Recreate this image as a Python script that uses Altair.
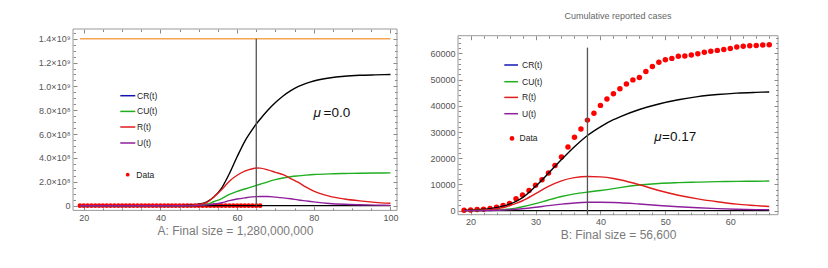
import altair as alt
import pandas as pd

FONT = "Liberation Sans"
TICK_COLOR = "#8a8a8a"
LABEL_COLOR = "#555555"
FRAME_COLOR = "#9a9a9a"

# ---------------- shared reported data (cumulative reported cases) ----------------
DATA_T = list(range(19, 67))
DATA_CASES = [200, 290, 440, 570, 830, 1290, 1980, 2740, 4520, 5970, 7710, 9690,
              11790, 14380, 17210, 20440, 24320, 28020, 31160, 34550, 37200, 40170,
              42640, 44650, 46500, 48300, 49900, 50800, 53100, 55000, 56600, 57600,
              58100, 58900, 59000, 59400, 59900, 60400, 60800, 61150, 61500, 61900,
              62400, 62700, 62900, 63000, 63200, 63300]

SERIES = ["Total", "CU(t)", "R(t)", "U(t)"]
SERIES_COLORS = ["#000000", "#1fae1f", "#e01c1c", "#8e1f9c"]
LEGEND_LABELS = ["CR(t)", "CU(t)", "R(t)", "U(t)"]
LEGEND_COLORS = ["#1414b4", "#1fae1f", "#e01c1c", "#8e1f9c"]

# ---------------- Panel A ----------------
A_T = [19, 30, 40, 45, 48, 50, 52, 54, 56, 58, 60, 62, 64, 65, 66, 68, 70, 72,
       74, 76, 78, 80, 84, 88, 92, 96, 100]
A_TOTAL = [0, 0, 0, 0.001e9, 0.004e9, 0.012e9, 0.03e9, 0.075e9, 0.15e9, 0.27e9,
           0.41e9, 0.54e9, 0.64e9, 0.685e9, 0.725e9, 0.80e9, 0.865e9, 0.92e9,
           0.965e9, 1.0e9, 1.025e9, 1.045e9, 1.07e9, 1.085e9, 1.093e9, 1.097e9, 1.1e9]
A_CU = [0, 0, 0, 0, 0.001e9, 0.004e9, 0.01e9, 0.035e9, 0.06e9, 0.095e9, 0.12e9,
        0.14e9, 0.16e9, 0.17e9, 0.18e9, 0.20e9, 0.218e9, 0.232e9, 0.243e9, 0.25e9,
        0.256e9, 0.261e9, 0.267e9, 0.27e9, 0.272e9, 0.274e9, 0.275e9]
A_R = [0, 0, 0, 0.001e9, 0.004e9, 0.01e9, 0.025e9, 0.075e9, 0.135e9, 0.205e9,
       0.255e9, 0.29e9, 0.31e9, 0.316e9, 0.315e9, 0.30e9, 0.28e9, 0.26e9, 0.228e9,
       0.195e9, 0.155e9, 0.122e9, 0.08e9, 0.056e9, 0.04e9, 0.028e9, 0.02e9]
A_U = [0, 0, 0, 0, 0.001e9, 0.003e9, 0.007e9, 0.014e9, 0.025e9, 0.042e9, 0.056e9,
       0.066e9, 0.074e9, 0.076e9, 0.077e9, 0.077e9, 0.072e9, 0.066e9, 0.058e9,
       0.048e9, 0.04e9, 0.032e9, 0.019e9, 0.012e9, 0.008e9, 0.005e9, 0.003e9]
A_POP_LEVEL = 1.4e9
A_LINE_SPAN = [19, 100]
A_VLINE_T = 65
A_VLINE_TOP = 1.4e9
A_X_DOMAIN = [17.2, 101.7]
A_Y_DOMAIN = [-0.0394e9, 1.4813e9]
A_X_TICKS = [20, 40, 60, 80, 100]
A_X_MINOR = [25, 30, 35, 45, 50, 55, 65, 70, 75, 85, 90, 95]
A_Y_TICKS = [0, 2e8, 4e8, 6e8, 8e8, 1e9, 1.2e9, 1.4e9]
A_Y_LABELS = ["0", "2.0×10⁸", "4.0×10⁸", "6.0×10⁸", "8.0×10⁸", "1.0×10⁹", "1.2×10⁹", "1.4×10⁹"]
A_Y_MINOR = [0.5e8, 1e8, 1.5e8, 2.5e8, 3e8, 3.5e8, 4.5e8, 5e8, 5.5e8, 6.5e8, 7e8, 7.5e8,
             8.5e8, 9e8, 9.5e8, 10.5e8, 11e8, 11.5e8, 12.5e8, 13e8, 13.5e8, 14.5e8]
A_CAPTION = "A: Final size = 1,280,000,000"
A_MU = "=0.0"

# ---------------- Panel B ----------------
B_T = [19, 21, 23, 25, 27, 28, 30, 32, 34, 36, 38, 40, 42, 43, 46, 49, 52, 55, 58, 61, 64, 66]
B_TOTAL = [150, 400, 800, 1700, 3600, 5000, 9300, 14300, 19500, 24400, 28700, 32000,
           34700, 35800, 38600, 40700, 42300, 43500, 44300, 44850, 45150, 45300]
B_CU = [20, 60, 150, 400, 1000, 1500, 2700, 4100, 5400, 6400, 7100, 7700, 8400, 8800,
        9800, 10400, 10700, 10900, 11100, 11200, 11250, 11300]
B_R = [50, 150, 400, 1200, 2800, 3800, 6500, 9300, 11400, 12600, 13050, 12900, 12300,
       11800, 9900, 7700, 5900, 4500, 3400, 2500, 1950, 1600]
B_U = [10, 40, 100, 250, 550, 750, 1300, 1950, 2500, 2950, 3200, 3250, 3150, 3050,
       2550, 2000, 1500, 1100, 780, 550, 420, 380]
B_LINE_SPAN = [19, 66]
B_VLINE_T = 38
B_VLINE_TOP = 62200
B_X_DOMAIN = [18.06, 67.35]
B_Y_DOMAIN = [-1526, 66750]
B_X_TICKS = [20, 30, 40, 50, 60]
B_X_MINOR = [22, 24, 26, 28, 32, 34, 36, 38, 42, 44, 46, 48, 52, 54, 56, 58, 62, 64, 66]
B_Y_TICKS = [0, 10000, 20000, 30000, 40000, 50000, 60000]
B_Y_LABELS = ["0", "10000", "20000", "30000", "40000", "50000", "60000"]
B_Y_MINOR = [2000, 4000, 6000, 8000, 12000, 14000, 16000, 18000, 22000, 24000, 26000,
             28000, 32000, 34000, 36000, 38000, 42000, 44000, 46000, 48000, 52000,
             54000, 56000, 58000, 62000, 64000, 66000]
B_CAPTION = "B: Final size = 56,600"
B_MU = "=0.17"
B_TITLE = "Cumulative reported cases"


def label_expr(values, labels):
    expr = "''"
    for v, l in reversed(list(zip(values, labels))):
        expr = f"datum.value == {v!r} ? '{l}' : ({expr})"
    return expr


def make_axis(orient, values, size, labels=False, lexpr=None, title=None, inset=0):
    kw = dict(orient=orient, values=values, tickSize=size, offset=-(size + inset),
              domain=False, grid=False, ticks=True, tickColor=TICK_COLOR,
              tickWidth=1, labels=labels, title=title)
    if labels:
        kw.update(labelFont=FONT, labelFontSize=9, labelColor=LABEL_COLOR,
                  labelPadding=3, labelFlush=False, labelOverlap=False)
    if lexpr:
        kw["labelExpr"] = lexpr
    if title:
        kw.update(titleFont=FONT, titleFontSize=12, titleColor="#7a7a7a",
                  titleFontWeight="normal", titlePadding=3)
    return alt.Axis(**kw)


def axis_layer(xs, ys, xdom, ydom, xaxis, yaxis):
    d = pd.DataFrame({"t": [xdom[0]], "v": [ydom[0]]})
    return alt.Chart(d).mark_point(opacity=0).encode(
        x=alt.X("t:Q", scale=xs, axis=xaxis),
        y=alt.Y("v:Q", scale=ys, axis=yaxis),
    )


def legend_layers(rows_y, x1, x2, tx, data_y, dot_x, data_tx, dot_size):
    one = pd.DataFrame({"a": [0]})
    layers = []
    for lab, col, yy in zip(LEGEND_LABELS, LEGEND_COLORS, rows_y):
        layers.append(alt.Chart(one).mark_rule(color=col, strokeWidth=1.5).encode(
            x=alt.value(x1), x2=alt.value(x2), y=alt.value(yy)))
        layers.append(alt.Chart(one).mark_text(align="left", baseline="middle", font=FONT,
                                               fontSize=8.5, color="#222222").encode(
            x=alt.value(tx), y=alt.value(yy), text=alt.value(lab)))
    layers.append(alt.Chart(one).mark_circle(color="#ff0000", opacity=1, size=dot_size).encode(
        x=alt.value(dot_x), y=alt.value(data_y)))
    layers.append(alt.Chart(one).mark_text(align="left", baseline="middle", font=FONT,
                                           fontSize=8.5, color="#222222").encode(
        x=alt.value(data_tx), y=alt.value(data_y), text=alt.value("Data")))
    return layers


def mu_layers(mx, ex, base_y, rest):
    one = pd.DataFrame({"a": [0]})
    return [
        alt.Chart(one).mark_text(align="left", baseline="alphabetic", font=FONT, fontSize=13.5,
                                 fontStyle="italic", color="#111111").encode(
            x=alt.value(mx), y=alt.value(base_y), text=alt.value("μ")),
        alt.Chart(one).mark_text(align="left", baseline="alphabetic", font=FONT, fontSize=13.5,
                                 color="#111111").encode(
            x=alt.value(ex), y=alt.value(base_y), text=alt.value(rest)),
    ]


def panel(t, series_vals, xdom, ydom, w, h, inset, xt, xm, yt, ylab, ym, caption, dot_size,
          span, vline_t, vline_top, vline_bottom, legend, mu, title=None, pop_level=None):
    # inset: empty band above the frame inside the group (to offset panel tops)
    xs = alt.Scale(domain=xdom, nice=False, zero=False, range=[0, w])
    ys = alt.Scale(domain=ydom, nice=False, zero=False, range=[h + inset, inset])
    xax = make_axis("bottom", xt, 4, labels=True, title=caption)
    yax = make_axis("left", yt, 4, labels=True, lexpr=label_expr(yt, ylab))
    X = alt.X("t:Q", scale=xs, axis=xax)
    Y = alt.Y("v:Q", scale=ys, axis=yax)

    rows = []
    for name, vals in zip(SERIES, series_vals):
        for tt, vv in zip(t, vals):
            rows.append({"t": tt, "v": vv, "s": name})
    curves = pd.DataFrame(rows)
    dots = pd.DataFrame({"t": DATA_T, "v": DATA_CASES})
    zero = pd.DataFrame({"t": [span[0]], "t2": [span[1]], "v": [0]})
    vline = pd.DataFrame({"t": [vline_t], "v": [vline_bottom], "v2": [vline_top]})
    one = pd.DataFrame({"a": [0]})

    layers = [alt.Chart(one).mark_rect(fillOpacity=0, stroke=FRAME_COLOR, strokeWidth=1).encode(
        x=alt.value(0), x2=alt.value(w), y=alt.value(inset), y2=alt.value(h + inset))]
    if pop_level is not None:
        pop = pd.DataFrame({"t": [span[0]], "t2": [span[1]], "v": [pop_level]})
        layers.append(alt.Chart(pop).mark_rule(color="#f6a650", strokeWidth=1.6).encode(
            x=X, x2="t2:Q", y=Y))
    layers.append(alt.Chart(dots).mark_circle(color="#ff0000", opacity=1, size=dot_size).encode(x=X, y=Y))
    layers.append(alt.Chart(zero).mark_rule(color="#000000", strokeWidth=1.2).encode(x=X, x2="t2:Q", y=Y))
    layers.append(alt.Chart(curves).mark_line(strokeWidth=1.4, interpolate="monotone").encode(
        x=X, y=Y,
        color=alt.Color("s:N", scale=alt.Scale(domain=SERIES, range=SERIES_COLORS), legend=None),
        detail="s:N"))
    layers.append(alt.Chart(vline).mark_rule(color="#555555", strokeWidth=1.3).encode(x=X, y=Y, y2="v2:Q"))
    layers += legend_layers(*legend)
    layers += mu_layers(*mu)
    main = alt.layer(*layers)

    full = alt.layer(
        main,
        axis_layer(xs, ys, xdom, ydom, make_axis("bottom", xm, 2.5), make_axis("left", ym, 2.5)),
        axis_layer(xs, ys, xdom, ydom, make_axis("top", xt, 4, inset=inset), make_axis("right", yt, 4)),
        axis_layer(xs, ys, xdom, ydom, make_axis("top", xm, 2.5, inset=inset), make_axis("right", ym, 2.5)),
    ).resolve_scale(x="independent", y="independent").properties(
        width=w, height=h + inset, view=alt.ViewBackground(stroke="transparent"))
    if title is not None:
        full = full.properties(title=title)
    return full


B_INSET = 6.7
title_b = alt.TitleParams(B_TITLE, fontSize=9, offset=8, font=FONT, color="#666666",
                          fontWeight="normal")

pA = panel(A_T, [A_TOTAL, A_CU, A_R, A_U], A_X_DOMAIN, A_Y_DOMAIN, 324, 181.4, 0,
           A_X_TICKS, A_X_MINOR, A_Y_TICKS, A_Y_LABELS, A_Y_MINOR, A_CAPTION, 22,
           A_LINE_SPAN, A_VLINE_T, A_VLINE_TOP, 0,
           ([66.7, 82.4, 98, 114], 47.3, 62.3, 64, 145.7, 54.7, 63.3, 14),
           (240.5, 250.5, 88, A_MU), pop_level=A_POP_LEVEL)
pB = panel(B_T, [B_TOTAL, B_CU, B_R, B_U], B_X_DOMAIN, B_Y_DOMAIN, 320, 179, B_INSET,
           B_X_TICKS, B_X_MINOR, B_Y_TICKS, B_Y_LABELS, B_Y_MINOR, B_CAPTION, 30,
           B_LINE_SPAN, B_VLINE_T, B_VLINE_TOP, B_Y_DOMAIN[0],
           ([29.3 + B_INSET, 46 + B_INSET, 61.7 + B_INSET, 78 + B_INSET], 46.3, 60, 64,
            102.7 + B_INSET, 54, 61.6, 22),
           (196.3, 204, 105 + B_INSET, B_MU), title=title_b)

chart = alt.hconcat(pA, pB, spacing=30).properties(
    padding={"left": 29, "top": 3, "right": 5, "bottom": 5}
).configure_view(stroke="transparent").configure(font=FONT)

chart.save("out.html", embed_options={"renderer": "svg", "actions": False})
